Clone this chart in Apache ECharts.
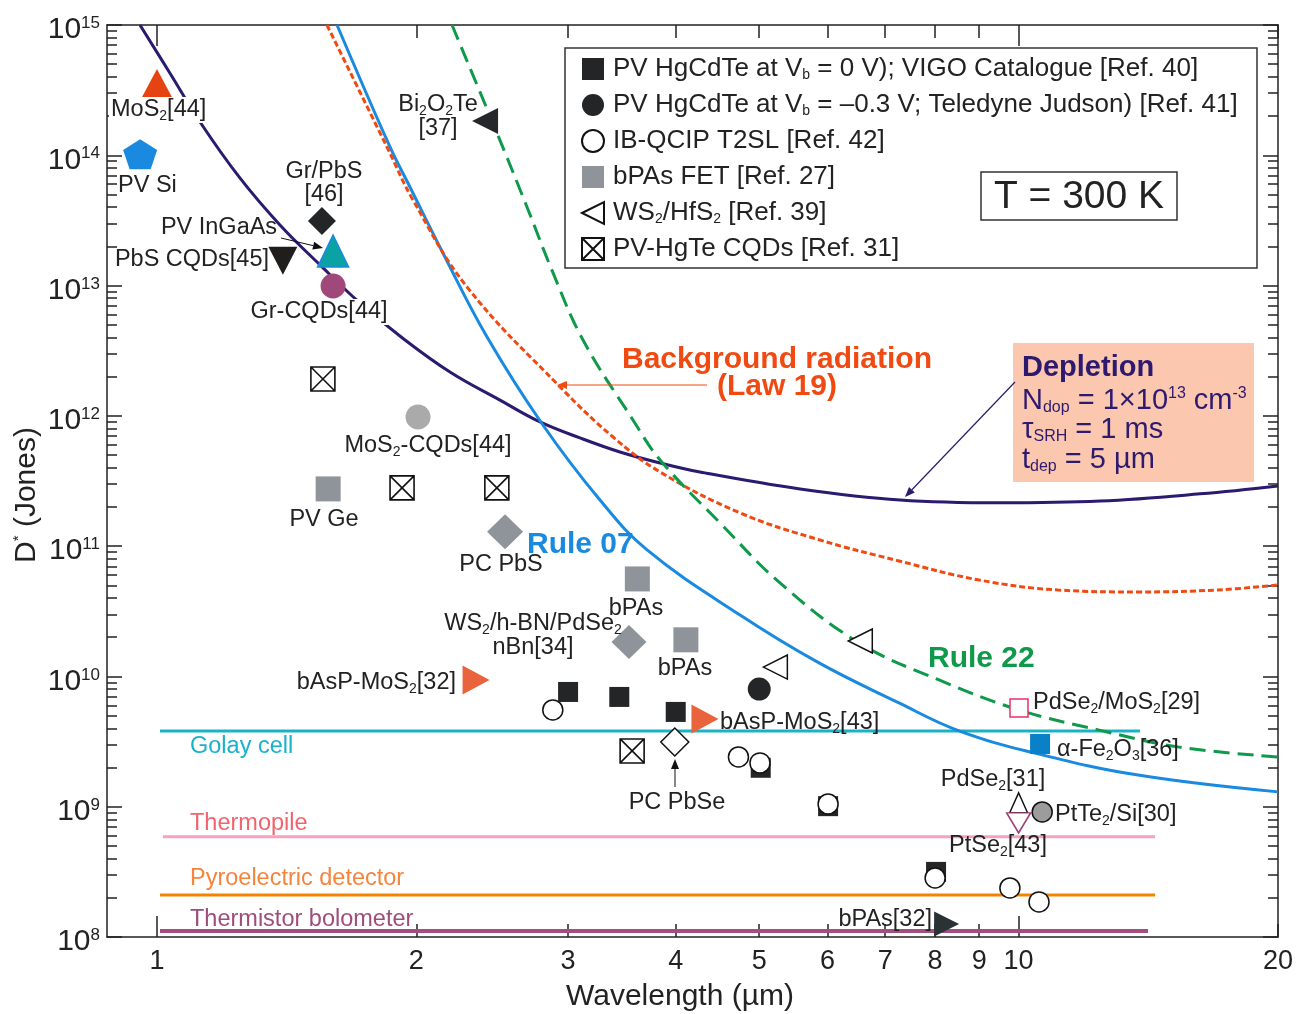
<!DOCTYPE html>
<html>
<head>
<meta charset="utf-8">
<title>Specific detectivity versus wavelength</title>
<script src="https://cdn.jsdelivr.net/npm/echarts@6/dist/echarts.min.js"></script>
<style>
  html, body { margin: 0; padding: 0; background: #ffffff; }
  #chart { width: 1299px; height: 1014px; }
</style>
</head>
<body>
<div id="chart"></div>
<script>
// ---------- axis ranges and ticks ----------
const lambdaMin = 0.875, lambdaMax = 20;          // wavelength, µm
const dExpMin = 8, dExpMax = 15;                  // D* decades, Jones
const xLabelTicks = [1, 2, 3, 4, 5, 6, 7, 8, 9, 10, 20];
const xLongTicks = [1, 10];
const xShortTicks = [2, 3, 4, 5, 6, 7, 8, 9, 20];
const yMinorFactors = [2, 3, 4, 5, 6, 7, 8, 9];

// ---------- model curves: [wavelength µm, D* Jones] ----------
const depletionCurve = [
  [0.9556, 1e15], [1.035, 4.28e14], [1.122, 1.80e14], [1.248, 6.70e13], [1.389, 2.92e13],
  [1.546, 1.44e13], [1.720, 7.35e12], [1.914, 4.10e12], [2.188, 2.17e12], [2.501, 1.32e12],
  [2.783, 8.98e11], [3.097, 6.77e11], [3.446, 5.28e11], [3.836, 4.35e11], [4.268, 3.71e11],
  [5.577, 2.75e11], [7.286, 2.26e11], [9.515, 2.15e11], [12.43, 2.22e11], [16.24, 2.52e11],
  [20, 2.90e11]
];
const rule07Curve = [
  [1.618, 1e15], [1.864, 1.158e14], [1.966, 5.71e13], [2.147, 1.78e13], [2.416, 4.03e12],
  [2.805, 8.51e11], [3.267, 2.26e11], [3.705, 9.35e10], [4.750, 2.96e10], [5.866, 1.27e10],
  [7.264, 6.26e9], [8.528, 3.82e9], [10.42, 2.59e9], [13.76, 1.75e9], [20, 1.30e9]
];
const law19Curve = [
  [1.575, 1e15], [1.849, 1.158e14], [1.982, 4.54e13], [2.290, 9.76e12], [2.936, 1.67e12],
  [3.382, 6.89e11], [3.836, 3.71e11], [4.750, 1.80e11], [5.866, 1.12e11], [7.264, 7.70e10],
  [8.995, 5.50e10], [11.11, 4.61e10], [13.76, 4.45e10], [17.03, 4.61e10], [20, 5.04e10]
];
const rule22Curve = [
  [2.200, 1e15], [2.481, 1.48e14], [2.688, 4.01e13], [2.882, 1.25e13], [3.122, 3.82e12],
  [3.568, 9.30e11], [3.836, 4.59e11], [4.502, 1.51e11], [5.285, 5.22e10], [6.528, 1.81e10],
  [8.085, 9.40e9], [10.01, 5.53e9], [12.37, 3.89e9], [15.31, 2.88e9], [20, 2.41e9]
];

// ---------- thermal detector levels ----------
const golayCell = [[1.008, 3.82e9], [13.83, 3.82e9]];
const thermopile = [[1.016, 5.87e8], [14.4, 5.87e8]];
const pyroelectric = [[1.008, 2.10e8], [14.4, 2.10e8]];
const thermistor = [[1.008, 1.114e8], [14.13, 1.114e8]];

// ---------- reported detectors ----------
const hgcdteZeroBias = [[3.0, 7.6e9], [3.44, 6.96e9], [4.0, 5.34e9], [5.02, 1.99e9], [6.01, 1.01e9], [8.02, 3.16e8]];
const hgcdteBiased = [[5.0, 8.0e9]];
const t2slUnder = [[2.88, 5.53e9]];
const t2sl = [[4.73, 2.41e9], [5.01, 2.17e9], [6.01, 1.05e9], [8.0, 2.84e8], [9.77, 2.38e8], [10.56, 1.86e8]];
const bpasFet = [[3.61, 5.6e10], [4.11, 1.91e10]];
const ws2Hfs2 = [[5.22, 1.18e10], [6.55, 1.87e10]];
const hgteCqd = [[1.558, 1.92e12], [1.925, 2.8e11], [2.48, 2.8e11], [3.56, 2.68e9]];

const mos2 = [[1.0, 3.53e14]];
const pvSi = [[0.956, 1.02e14]];
const grPbs = [[1.554, 3.13e13]];
const pvIngaas = [[1.601, 1.84e13]];
const pbsCqd = [[1.40, 1.55e13]];
const grCqd = [[1.601, 9.93e12]];
const mos2Cqd = [[2.009, 9.8e11]];
const pvGe = [[1.58, 2.75e11]];
const pcPbs = [[2.535, 1.29e11]];
const ws2HbnPdse2 = [[3.53, 1.84e10]];
const basp32 = [[2.346, 9.4e9]];
const basp43 = [[4.325, 4.72e9]];
const pcPbse = [[3.99, 3.14e9]];
const bi2o2te = [[2.403, 1.83e14]];
const pdse2Mos2 = [[10.01, 5.73e9]];
const fe2o3 = [[10.59, 3.03e9]];
const pdse2 = [[10.0, 1.07e9]];
const ptse2 = [[10.0, 7.51e8]];
const ptte2 = [[10.65, 9.12e8]];
const bpas32 = [[8.25, 1.26e8]];

// ---------- legend entries ----------
const L1 = 'PV HgCdTe at Vb = 0 V); VIGO Catalogue [Ref. 40]';
const L2 = 'PV HgCdTe at Vb = –0.3 V; Teledyne Judson) [Ref. 41]';
const L3 = 'IB-QCIP T2SL [Ref. 42]';
const L4 = 'bPAs FET [Ref. 27]';
const L5 = 'WS2/HfS2 [Ref. 39]';
const L6 = 'PV-HgTe CQDs [Ref. 31]';
const legendRich = {};
legendRich[L1] = '{n|PV HgCdTe at V}{s|b}{n| = 0 V); VIGO Catalogue [Ref. 40]}';
legendRich[L2] = '{n|PV HgCdTe at V}{s|b}{n| = –0.3 V; Teledyne Judson) [Ref. 41]}';
legendRich[L3] = '{n|IB-QCIP T2SL [Ref. 42]}';
legendRich[L4] = '{n|bPAs FET [Ref. 27]}';
legendRich[L5] = '{n|WS}{s|2}{n|/HfS}{s|2}{n| [Ref. 39]}';
legendRich[L6] = '{n|PV-HgTe CQDs [Ref. 31]}';

// ---------- helpers ----------
const FONT = "'Liberation Sans', Arial, sans-serif";
const INK = '#222222';
const LOG = Math.log10;
const toLog = pts => pts.map(([x, y]) => [LOG(x), LOG(y)]);

const SYM = {
  down: 'path://M0,0L20,0L10,20Z',
  left: 'path://M0,10L20,0L20,20Z',
  right: 'path://M0,0L20,10L0,20Z',
  pentagon: 'path://M10,0L20,7.3L16.2,20L3.8,20L0,7.3Z',
  xbox: 'path://M0,0L20,0L20,20L0,20Z M0,0L20,20 M20,0L0,20'
};

function curve(name, pts, color, type) {
  return {
    name, type: 'line', data: toLog(pts), symbol: 'none', smooth: 0.4,
    lineStyle: { color, width: 3, type }, z: 2, silent: true
  };
}
function level(name, pts, color, width) {
  return { name, type: 'line', data: toLog(pts), symbol: 'none', lineStyle: { color, width }, z: 1, silent: true };
}
function marks(name, pts, symbol, size, itemStyle, z) {
  return { name, type: 'scatter', data: toLog(pts), symbol, symbolSize: size, itemStyle, z: z || 5, silent: true };
}
const solid = c => ({ color: c, borderWidth: 0, opacity: 1 });
const open = (c, w) => ({ color: '#ffffff', borderColor: c || '#111111', borderWidth: w || 1.5, opacity: 1 });

const series = [
  level('Golay cell', golayCell, '#1ab3c6', 3),
  level('Thermopile', thermopile, '#f6a2bd', 3),
  level('Pyroelectric detector', pyroelectric, '#f58300', 3),
  level('Thermistor bolometer', thermistor, '#a24e80', 4),
  curve('Depletion', depletionCurve, '#2b1a70', 'solid'),
  curve('Rule 07', rule07Curve, '#1a8ae0', 'solid'),
  curve('Background radiation (Law 19)', law19Curve, '#f04a12', [6, 3]),
  curve('Rule 22', rule22Curve, '#0e9a4a', [16, 8]),

  marks(L3, t2slUnder, 'circle', 20, open(), 4),
  marks(L1, hgcdteZeroBias, 'rect', 20, solid('#232527'), 5),
  marks(L2, hgcdteBiased, 'circle', 23, solid('#232527'), 5),
  marks(L3, t2sl, 'circle', 20, open(), 6),
  marks(L4, bpasFet, 'rect', 25, solid('#8f949a'), 5),
  marks(L5, ws2Hfs2, SYM.left, [24, 24], open(), 5),
  marks(L6, hgteCqd, SYM.xbox, 24, open('#111111', 1.6), 5),

  marks('MoS2 [44]', mos2, 'triangle', [32, 30], solid('#e64312')),
  marks('PV Si', pvSi, SYM.pentagon, [34, 30], solid('#1a8ae0')),
  marks('Gr/PbS [46]', grPbs, 'diamond', [28, 28], solid('#232527')),
  marks('PV InGaAs', pvIngaas, 'triangle', [31, 32], { color: '#0aa2a2', borderColor: '#1a8ae0', borderWidth: 1.5, opacity: 1 }),
  marks('PbS CQDs [45]', pbsCqd, SYM.down, [29, 28], solid('#201e1c')),
  marks('Gr-CQDs [44]', grCqd, 'circle', 25, solid('#a0487a')),
  marks('MoS2-CQDs [44]', mos2Cqd, 'circle', 25, solid('#aaaaaa')),
  marks('PV Ge', pvGe, 'rect', 25, solid('#8f949a')),
  marks('PC PbS', pcPbs, 'diamond', [36, 35], solid('#8f949a')),
  marks('WS2/h-BN/PdSe2 nBn [34]', ws2HbnPdse2, 'diamond', [35, 34], solid('#8f949a')),
  marks('bAsP-MoS2 [32]', basp32, SYM.right, [27, 29], solid('#e9633c')),
  marks('bAsP-MoS2 [43]', basp43, SYM.right, [27, 29], solid('#e9633c')),
  marks('PC PbSe', pcPbse, 'diamond', [28, 28], open()),
  marks('Bi2O2Te [37]', bi2o2te, SYM.left, [26, 26], solid('#25282b')),
  marks('PdSe2/MoS2 [29]', pdse2Mos2, 'rect', 18, open('#e8306a', 1.5)),
  marks('α-Fe2O3 [36]', fe2o3, 'rect', 20, solid('#0a80c8')),
  marks('PdSe2 [31]', pdse2, 'triangle', [18, 20], open()),
  marks('PtSe2 [43]', ptse2, SYM.down, [24, 20], open('#a0407a', 1.5)),
  marks('PtTe2/Si [30]', ptte2, 'circle', 20, { color: '#9c9c9c', borderColor: '#111111', borderWidth: 1.5, opacity: 1 }),
  marks('bPAs [32]', bpas32, SYM.right, [25, 25], solid('#2a3236'))
];

// ---------- axes ----------
const axisLineStyle = { color: INK, width: 1.5 };
const xExt = { min: LOG(lambdaMin), max: LOG(lambdaMax) };
function xAxisDef(position, ticks, len, withLine, withLabels) {
  return {
    type: 'value', position, min: xExt.min, max: xExt.max,
    splitLine: { show: false },
    axisLine: { show: withLine, onZero: false, lineStyle: axisLineStyle },
    axisTick: { show: true, inside: true, length: len, customValues: ticks.map(LOG), lineStyle: axisLineStyle },
    axisLabel: withLabels ? {
      show: true, customValues: xLabelTicks.map(LOG),
      formatter: v => String(Math.round(Math.pow(10, v))),
      fontSize: 27, fontFamily: FONT, color: INK, margin: 11
    } : { show: false }
  };
}
const yMinor = [];
for (let e = dExpMin; e < dExpMax; e++) yMinorFactors.forEach(k => yMinor.push(e + LOG(k)));
function yAxisDef(position, minor, withLine, withLabels) {
  const tick = minor
    ? { show: true, inside: true, length: 10, customValues: yMinor, lineStyle: axisLineStyle }
    : { show: true, inside: true, length: 15, lineStyle: axisLineStyle };
  return {
    type: 'value', position, min: dExpMin, max: dExpMax, interval: 1,
    splitLine: { show: false },
    axisLine: { show: withLine, onZero: false, lineStyle: axisLineStyle },
    axisTick: tick,
    axisLabel: withLabels ? {
      show: true, margin: 7, padding: [10, 0, 0, 0],
      formatter: v => '{b|10}{s|' + v + '}',
      rich: {
        b: { fontSize: 30, fontFamily: FONT, color: INK, lineHeight: 30 },
        s: { fontSize: 17, fontFamily: FONT, color: INK, lineHeight: 17, verticalAlign: 'top' }
      }
    } : { show: false }
  };
}

// ---------- annotations ----------
const RICH = {
  n: { fontSize: 23.5, fontFamily: FONT, lineHeight: 26 },
  s: { fontSize: 14, fontFamily: FONT, lineHeight: 13, verticalAlign: 'bottom' }
};
function text(str, x, y, align, extra) {
  return {
    type: 'text', x, y, z: 30, silent: true,
    style: Object.assign({
      text: str, align, verticalAlign: 'middle', fill: INK,
      fontSize: 23.5, fontFamily: FONT, rich: RICH
    }, extra || {})
  };
}
function boldText(str, x, y, align, color) {
  return {
    type: 'text', x, y, z: 30, silent: true,
    style: { text: str, align, verticalAlign: 'middle', fill: color, fontSize: 30, fontWeight: 'bold', fontFamily: FONT }
  };
}
function arrow(x1, y1, x2, y2, color, w) {
  const a = Math.atan2(y2 - y1, x2 - x1), L = 10, H = 4;
  const bx = x2 - L * Math.cos(a), by = y2 - L * Math.sin(a);
  const px = -Math.sin(a) * H, py = Math.cos(a) * H;
  return [
    { type: 'line', z: 25, silent: true, shape: { x1, y1, x2: bx, y2: by }, style: { stroke: color, lineWidth: w } },
    { type: 'polygon', z: 25, silent: true, shape: { points: [[x2, y2], [bx + px, by + py], [bx - px, by - py]] }, style: { fill: color } }
  ];
}
const DEP = '#2d1a6e';
const DEP_RICH = {
  b: { fontSize: 29, fontFamily: FONT, lineHeight: 30 },
  s: { fontSize: 16, fontFamily: FONT, lineHeight: 14, verticalAlign: 'bottom' },
  p: { fontSize: 16, fontFamily: FONT, lineHeight: 14, verticalAlign: 'top' }
};
const whiteBg = { backgroundColor: '#ffffff', padding: [0, 2] };

const graphics = [
  // legend frame and temperature box
  { type: 'rect', z: 10, silent: true, shape: { x: 565, y: 48, width: 692, height: 220 }, style: { fill: 'none', stroke: '#333333', lineWidth: 1.5 } },
  { type: 'rect', z: 10, silent: true, shape: { x: 981, y: 172, width: 196, height: 48 }, style: { fill: '#ffffff', stroke: '#333333', lineWidth: 1.5 } },
  { type: 'text', z: 30, silent: true, x: 1079, y: 197, style: { text: 'T = 300 K', align: 'center', verticalAlign: 'middle', fill: INK, fontSize: 39, fontFamily: FONT } },

  // depletion parameters box
  { type: 'rect', z: 10, silent: true, shape: { x: 1013, y: 343, width: 241, height: 139 }, style: { fill: '#fbc7ae' } },
  { type: 'text', z: 30, silent: true, x: 1022, y: 368, style: { text: 'Depletion', align: 'left', verticalAlign: 'middle', fill: DEP, fontSize: 29, fontWeight: 'bold', fontFamily: FONT } },
  { type: 'text', z: 30, silent: true, x: 1022, y: 401, style: { text: '{b|N}{s|dop}{b| = 1×10}{p|13}{b| cm}{p|-3}', align: 'left', verticalAlign: 'middle', fill: DEP, fontSize: 29, fontFamily: FONT, rich: DEP_RICH } },
  { type: 'text', z: 30, silent: true, x: 1022, y: 430, style: { text: '{b|τ}{s|SRH}{b| = 1 ms}', align: 'left', verticalAlign: 'middle', fill: DEP, fontSize: 29, fontFamily: FONT, rich: DEP_RICH } },
  { type: 'text', z: 30, silent: true, x: 1022, y: 460, style: { text: '{b|t}{s|dep}{b| = 5 µm}', align: 'left', verticalAlign: 'middle', fill: DEP, fontSize: 29, fontFamily: FONT, rich: DEP_RICH } },

  // curve captions
  boldText('Rule 07', 527, 545, 'left', '#1a8ae0'),
  boldText('Rule 22', 928, 659, 'left', '#0e9a4a'),
  boldText('Background radiation', 777, 360, 'center', '#f04a12'),
  boldText('(Law 19)', 777, 387, 'center', '#f04a12'),

  // thermal detector captions
  text('{n|Golay cell}', 190, 747, 'left', { fill: '#19b2c7' }),
  text('{n|Thermopile}', 190, 824, 'left', { fill: '#f0646e' }),
  text('{n|Pyroelectric detector}', 190, 879, 'left', { fill: '#f5843c' }),
  text('{n|Thermistor bolometer}', 190, 920, 'left', { fill: '#9e4c7c' }),

  // detector captions
  text('{n|MoS}{s|2}{n|[44]}', 109, 110, 'left', whiteBg),
  text('{n|PV Si}', 118, 186, 'left'),
  text('{n|Gr/PbS}', 324, 172, 'center'),
  text('{n|[46]}', 324, 195, 'center'),
  text('{n|PV InGaAs}', 219, 228, 'center'),
  text('{n|PbS CQDs[45]}', 269, 260, 'right'),
  text('{n|Gr-CQDs[44]}', 319, 312, 'center', whiteBg),
  text('{n|MoS}{s|2}{n|-CQDs[44]}', 428, 446, 'center'),
  text('{n|PV Ge}', 324, 520, 'center'),
  text('{n|PC PbS}', 501, 565, 'center'),
  text('{n|bPAs}', 636, 609, 'center'),
  text('{n|WS}{s|2}{n|/h-BN/PdSe}{s|2}', 533, 624, 'center'),
  text('{n|nBn[34]}', 533, 648, 'center'),
  text('{n|bPAs}', 685, 669, 'center'),
  text('{n|bAsP-MoS}{s|2}{n|[32]}', 456, 683, 'right'),
  text('{n|bAsP-MoS}{s|2}{n|[43]}', 720, 723, 'left'),
  text('{n|PC PbSe}', 677, 803, 'center'),
  text('{n|Bi}{s|2}{n|O}{s|2}{n|Te}', 438, 105, 'center'),
  text('{n|[37]}', 438, 129, 'center'),
  text('{n|PdSe}{s|2}{n|/MoS}{s|2}{n|[29]}', 1033, 703, 'left'),
  text('{n|α-Fe}{s|2}{n|O}{s|3}{n|[36]}', 1057, 750, 'left'),
  text('{n|PdSe}{s|2}{n|[31]}', 993, 780, 'center'),
  text('{n|PtTe}{s|2}{n|/Si[30]}', 1055, 815, 'left'),
  text('{n|PtSe}{s|2}{n|[43]}', 998, 846, 'center'),
  text('{n|bPAs[32]}', 932, 920, 'right'),

  // axis titles
  { type: 'text', z: 30, silent: true, x: 680, y: 997, style: { text: 'Wavelength (µm)', align: 'center', verticalAlign: 'middle', fill: INK, fontSize: 30, fontFamily: FONT } },
  { type: 'text', z: 30, silent: true, x: 27, y: 495, rotation: Math.PI / 2,
    style: { text: '{b|D}{p|*}{b| (Jones)}', align: 'center', verticalAlign: 'middle', fill: INK, fontSize: 30, fontFamily: FONT,
      rich: { b: { fontSize: 30, fontFamily: FONT, lineHeight: 32 }, p: { fontSize: 15, fontFamily: FONT, lineHeight: 15, verticalAlign: 'top' } } } }
]
  .concat(arrow(281, 238, 323, 248, '#111111', 1))
  .concat(arrow(675, 787, 675, 759, '#111111', 1))
  .concat(arrow(707, 385, 557, 385, '#f04a12', 1.2))
  .concat(arrow(1015, 382, 905, 497, DEP, 1.2));

const option = {
  animation: false,
  backgroundColor: '#ffffff',
  grid: { left: 107, right: 21, top: 25, bottom: 77, containLabel: false },
  xAxis: [
    xAxisDef('bottom', xShortTicks, 13, true, true),
    xAxisDef('bottom', xLongTicks, 21, false, false),
    xAxisDef('top', xShortTicks, 13, true, false),
    xAxisDef('top', xLongTicks, 21, false, false)
  ],
  yAxis: [
    yAxisDef('left', false, true, true),
    yAxisDef('left', true, false, false),
    yAxisDef('right', false, true, false),
    yAxisDef('right', true, false, false)
  ],
  legend: {
    orient: 'vertical', left: 576, top: 51, itemWidth: 22, itemHeight: 22, itemGap: 10,
    selectedMode: false,
    data: [L1, L2, L3, L4, L5, L6],
    formatter: name => legendRich[name],
    itemStyle: { opacity: 1 },
    textStyle: {
      color: INK, fontSize: 26, fontFamily: FONT, padding: [0, 0, 0, 4],
      rich: {
        n: { fontSize: 26, fontFamily: FONT, color: INK, lineHeight: 26 },
        s: { fontSize: 14, fontFamily: FONT, color: INK, lineHeight: 13, verticalAlign: 'bottom' }
      }
    }
  },
  graphic: { elements: graphics },
  series
};

const chart = echarts.init(document.getElementById('chart'));
chart.setOption(option);
</script>
</body>
</html>
